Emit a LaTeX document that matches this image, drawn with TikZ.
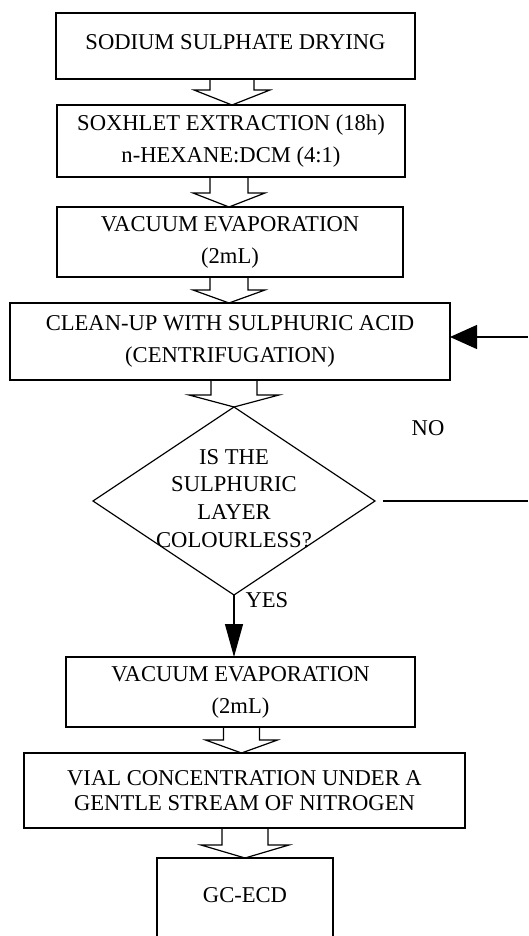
\documentclass[tikz,border=0pt]{standalone}
\usepackage{fontspec}
\setmainfont{Liberation Serif}
\usepackage{tikz}
\usetikzlibrary{arrows.meta,positioning,shapes.geometric,calc}

% hollow block arrow: from, to, axis shift, half shaft, half head, head length
\newcommand{\hollowarrow}[6]{%
  \draw[line width=1.2pt, line join=miter]
    ([xshift=#3-#4]#1.south -| #2.north) -- ([xshift=#3-#4,yshift=#6]#2.north)
    -- ([xshift=#3-#5,yshift=#6]#2.north) -- ([xshift=#3]#2.north)
    -- ([xshift=#3+#5,yshift=#6]#2.north) -- ([xshift=#3+#4,yshift=#6]#2.north)
    -- ([xshift=#3+#4]#1.south -| #2.north);}

\begin{document}
\begin{tikzpicture}[
  x=1pt, y=1pt,
  font=\fontsize{22.6}{32}\selectfont,
  box/.style={draw, line width=1.2pt, align=center, inner sep=0pt, outer sep=0pt},
  dec/.style={draw, diamond, line width=1.2pt, inner sep=0pt, outer sep=0pt,
              minimum width=282pt, minimum height=188pt},
  >={Triangle[length=27pt, width=24pt]},
]
\useasboundingbox (0,0) rectangle (528,-936);
\node[box, minimum width=359pt, minimum height=66pt, text depth=8pt] (b1) at (235.5,-46)
  {SODIUM SULPHATE DRYING};
\node[box, minimum width=348pt, minimum height=72pt, below=26pt of b1, xshift=-4.5pt] (b2)
  {SOXHLET EXTRACTION (18h)\\n-HEXANE:DCM (4:1)};
\node[box, minimum width=346pt, minimum height=70pt, below=30pt of b2, xshift=-1pt] (b3)
  {VACUUM EVAPORATION\\(2mL)};
\node[box, minimum width=440pt, minimum height=77pt, below=26pt of b3] (b4)
  {CLEAN-UP WITH SULPHURIC ACID\\(CENTRIFUGATION)};
\node[dec, below=27pt of b4, xshift=4pt] (dia) {};
\node[align=center, font=\fontsize{22.6}{27.7}\selectfont, yshift=2.5pt] (qtext) at (dia)
  {IS THE\\SULPHURIC\\LAYER\\COLOURLESS?};
\node[box, minimum width=349pt, minimum height=70pt, below=62pt of dia, xshift=6.5pt] (b5)
  {VACUUM EVAPORATION\\(2mL)};
\node[box, minimum width=441pt, minimum height=75pt, below=26pt of b5, xshift=4pt,
      font=\fontsize{22.6}{25}\selectfont] (b6)
  {VIAL CONCENTRATION UNDER A\\GENTLE STREAM OF NITROGEN};
\node[box, minimum width=176pt, minimum height=100pt, text depth=26pt,
      below=30pt of b6, xshift=0.5pt] (b7) {GC-ECD};
% block arrows
\hollowarrow{b1}{b2}{1pt}{22pt}{38pt}{15pt}
\hollowarrow{b2}{b3}{-1pt}{19pt}{36pt}{14pt}
\hollowarrow{b3}{b4}{-1pt}{19pt}{36pt}{13pt}
\hollowarrow{b4}{dia}{0pt}{23pt}{45pt}{12pt}
\hollowarrow{b5}{b6}{-3pt}{18pt}{36pt}{13pt}
\hollowarrow{b6}{b7}{0pt}{23pt}{44pt}{13pt}
% decision branches
\draw[line width=1.2pt, -{Triangle[length=33pt, width=18pt]}] (dia.south) -- (dia.south |- b5.north);
\node[anchor=west] (yes) at ([xshift=8pt,yshift=-5pt]dia.south) {YES};
\coordinate (noout) at (528,-501);
\coordinate (noin) at (528,-337);
\draw[line width=1.2pt, shorten <=8pt] (dia.east) -- (noout);
\draw[line width=1.2pt, ->] (noin) -- (noin -| b4.east);
\node (no) at (428,-428) {NO};
\end{tikzpicture}
\end{document}
